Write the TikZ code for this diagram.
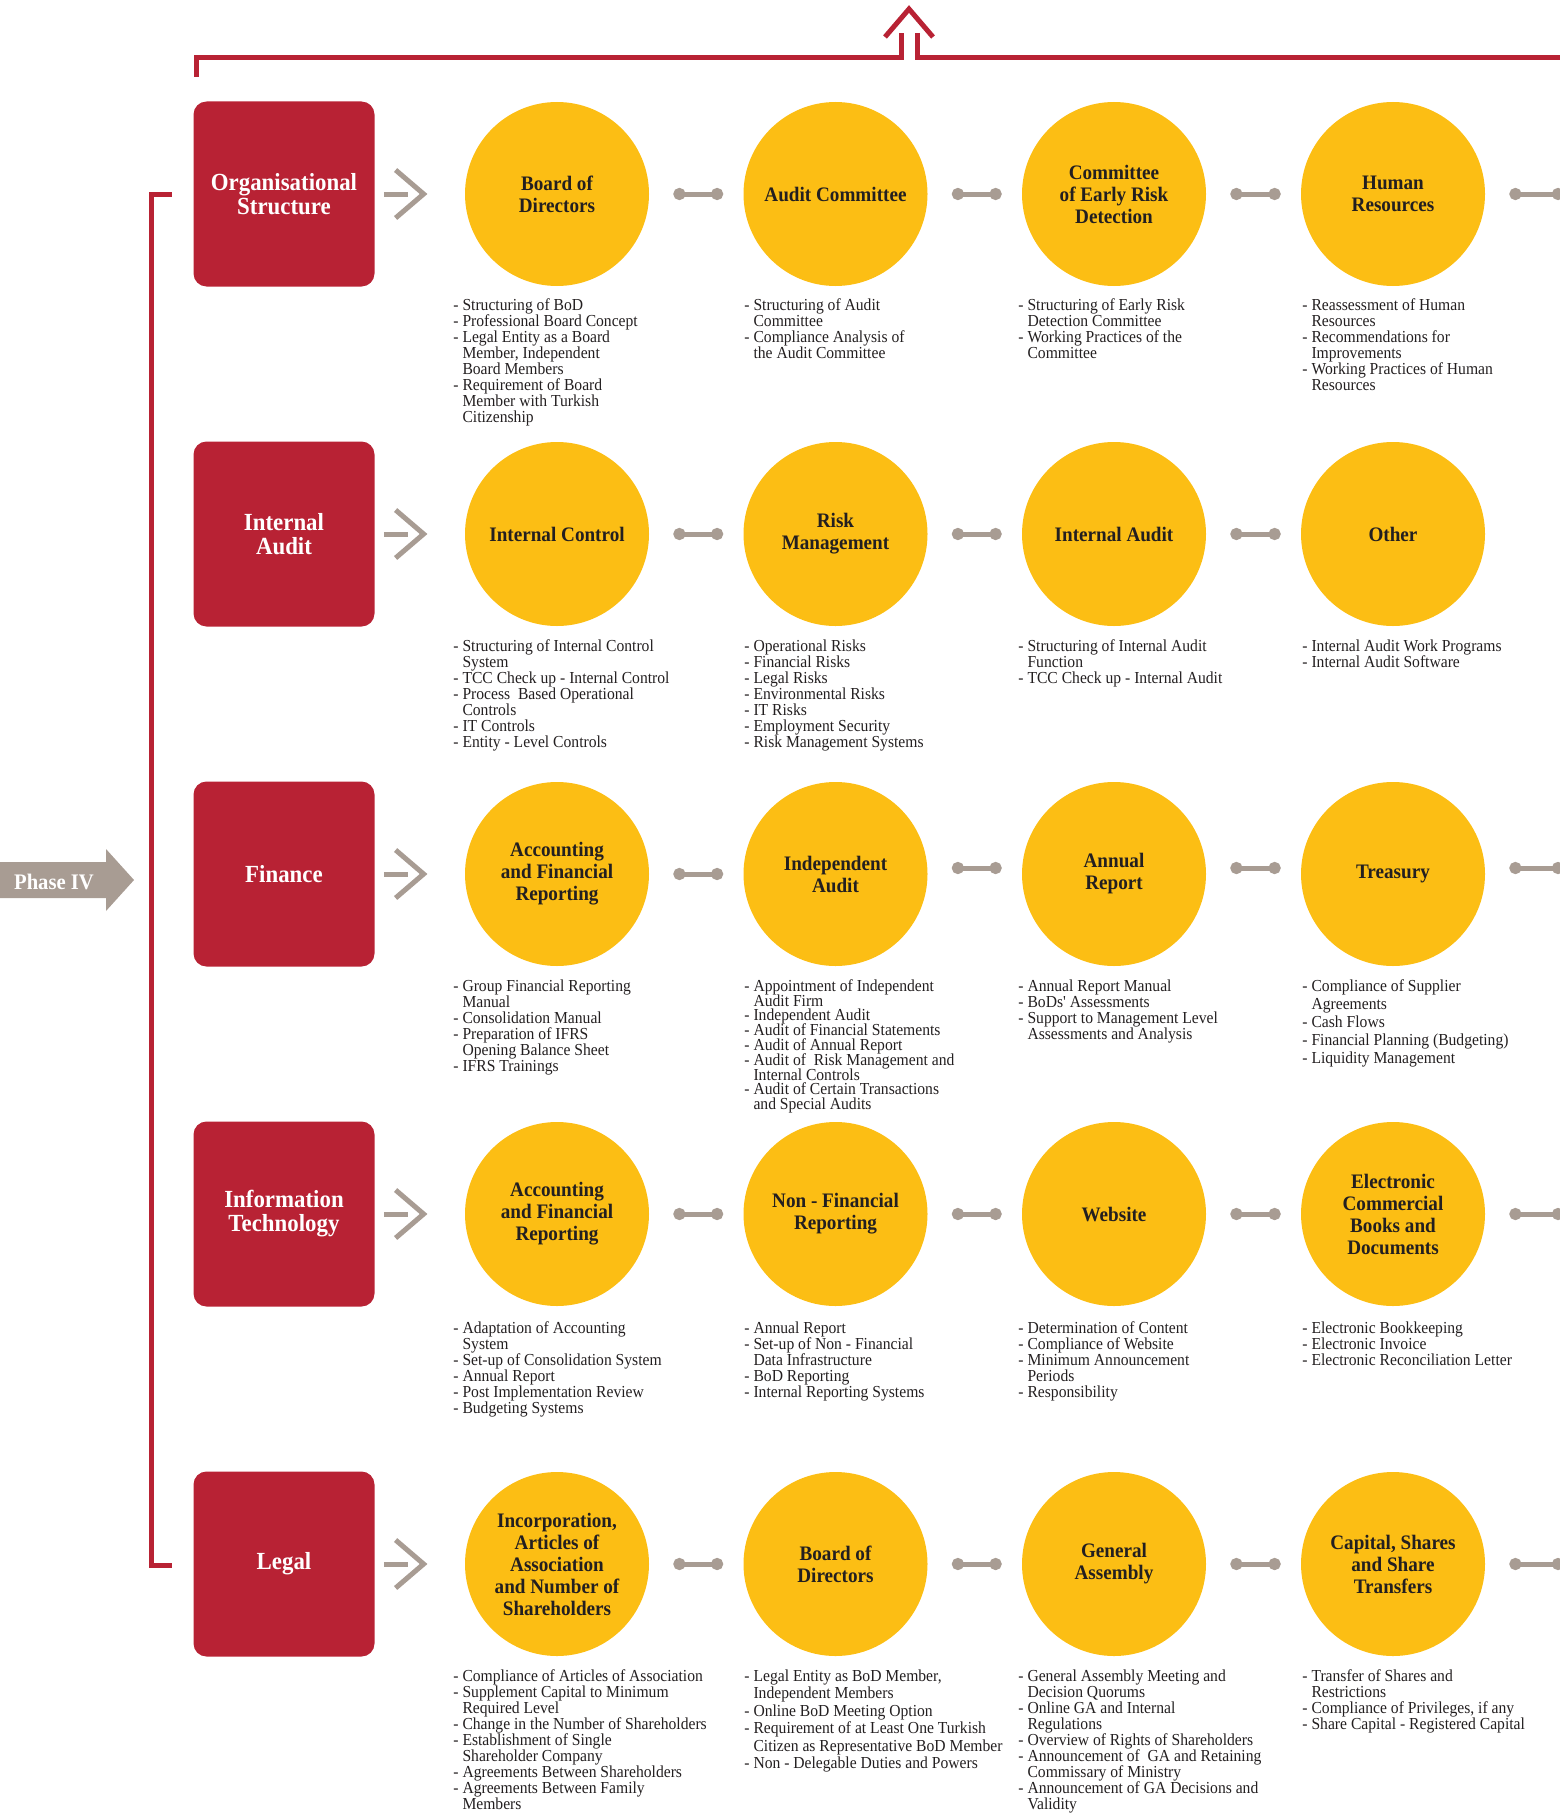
\documentclass[tikz,border=0pt]{standalone}
\usepackage{fontspec}
\setmainfont{Liberation Serif}
\newfontfamily\condfont[FakeStretch=0.93]{Liberation Serif}
\usetikzlibrary{arrows.meta}
\definecolor{pwcred}{HTML}{B82234}
\definecolor{pwcyellow}{HTML}{FCBE14}
\definecolor{pwcgrey}{HTML}{A89C93}
\definecolor{pwctext}{HTML}{231F20}
\newcommand{\hind}{\hphantom{- }}
\newcommand{\tightls}{\lineskiplimit-8pt\relax}

\begin{document}
\begin{tikzpicture}[x=0.5pt,y=-0.5pt,
	box/.style={fill=pwcred,rounded corners=6.5pt,minimum width=90.5pt,minimum height=92.5pt,inner sep=0pt,text=white,align=center,font=\condfont\fontsize{12.3}{12}\selectfont\bfseries},
	topic/.style={circle,fill=pwcyellow,minimum size=92pt,inner sep=0pt,align=center,text=pwctext,font=\condfont\fontsize{10.3}{11}\selectfont\bfseries},
	desc/.style={anchor=north west,inner sep=0pt,align=left,text=pwctext,font=\condfont\fontsize{8.4}{8}\selectfont\tightls},
	link/.style={draw=pwcgrey,line width=2.5pt,{Circle[length=6pt]}-{Circle[length=6pt]},shorten <=12pt,shorten >=10pt},
	shaft/.style={draw=pwcgrey,line width=2.5pt},
	chev/.style={draw=pwcgrey,line width=2.5pt,line join=miter},
	redline/.style={draw=pwcred,line width=2.5pt,line join=miter}]
				%\draw [help lines] (0,0) grid (1559,1814);
				\useasboundingbox (0,0) rectangle (1559,1814);
				% top line with the arrow up
				\draw[redline] (196,77) -- (196,58) -- (901,58) -- (901,33);
				\draw[redline] (917,33) -- (917,58) -- (1600,58);
				\draw[redline] (885,37) -- (909,9) -- (933,37);
				% left bracket
				\draw[redline] (171.5,194) -- (151.5,194) -- (151.5,1565) -- (171.5,1565);
				% phase
				\fill[pwcgrey] (0,862) -- (106,862) -- (106,849) -- (134,880) -- (106,911) -- (106,898) -- (0,898) -- cycle;
				\node[text=white,font=\condfont\fontsize{11.1}{12}\selectfont\bfseries] (ph) at (54,882) {Phase IV};
				% areas
				\node[box] (b1) at (284,194) {Organisational\\Structure};
				\node[box] (b2) at (284,534) {Internal\\Audit};
				\node[box] (b3) at (284,874) {Finance};
				\node[box] (b4) at (284,1214) {Information\\Technology};
				\node[box] (b5) at (284,1564) {Legal};
				% row 1
				\node[topic] (c11) at (557,194) {Board of\\Directors};
				\node[topic] (c12) at (835.5,194) {Audit Committee};
				\node[topic] (c13) at (1114,194) {Committee\\of Early Risk\\Detection};
				\node[topic] (c14) at (1393,194) {Human\\Resources};
				% row 2
				\node[topic] (c21) at (557,534) {Internal Control};
				\node[topic] (c22) at (835.5,534) {Risk\\Management};
				\node[topic] (c23) at (1114,534) {Internal Audit};
				\node[topic] (c24) at (1393,534) {Other};
				% row 3
				\node[topic] (c31) at (557,874) {Accounting\\and Financial\\Reporting};
				\node[topic] (c32) at (835.5,874) {Independent\\Audit};
				\node[topic] (c33) at (1114,874) {Annual\\Report};
				\node[topic] (c34) at (1393,874) {Treasury};
				% row 4
				\node[topic] (c41) at (557,1214) {Accounting\\and Financial\\Reporting};
				\node[topic] (c42) at (835.5,1214) {Non - Financial\\Reporting};
				\node[topic] (c43) at (1114,1214) {Website};
				\node[topic] (c44) at (1393,1214) {Electronic\\Commercial\\Books and\\Documents};
				% row 5
				\node[topic] (c51) at (557,1564) {Incorporation,\\Articles of\\Association\\and Number of\\Shareholders};
				\node[topic] (c52) at (835.5,1564) {Board of\\Directors};
				\node[topic] (c53) at (1114,1564) {General\\Assembly};
				\node[topic] (c54) at (1393,1564) {Capital, Shares\\and Share\\Transfers};
				% loose ends on the right
				\coordinate (r1) at (1584,194);
				\coordinate (r3) at (1584,868);
				\coordinate (r4) at (1584,1214);
				\coordinate (r5) at (1584,1564);
				% grey arrows
				\draw[shaft] ([xshift=4.5pt]b1.east) -- ([xshift=-28.5pt]c11.west);
				\draw[chev] ([xshift=-34.5pt,yshift=12pt]c11.west) -- ([xshift=-20.5pt]c11.west) -- ([xshift=-34.5pt,yshift=-12pt]c11.west);
				\draw[shaft] ([xshift=4.5pt]b2.east) -- ([xshift=-28.5pt]c21.west);
				\draw[chev] ([xshift=-34.5pt,yshift=12pt]c21.west) -- ([xshift=-20.5pt]c21.west) -- ([xshift=-34.5pt,yshift=-12pt]c21.west);
				\draw[shaft] ([xshift=4.5pt]b3.east) -- ([xshift=-28.5pt]c31.west);
				\draw[chev] ([xshift=-34.5pt,yshift=12pt]c31.west) -- ([xshift=-20.5pt]c31.west) -- ([xshift=-34.5pt,yshift=-12pt]c31.west);
				\draw[shaft] ([xshift=4.5pt]b4.east) -- ([xshift=-28.5pt]c41.west);
				\draw[chev] ([xshift=-34.5pt,yshift=12pt]c41.west) -- ([xshift=-20.5pt]c41.west) -- ([xshift=-34.5pt,yshift=-12pt]c41.west);
				\draw[shaft] ([xshift=4.5pt]b5.east) -- ([xshift=-28.5pt]c51.west);
				\draw[chev] ([xshift=-34.5pt,yshift=12pt]c51.west) -- ([xshift=-20.5pt]c51.west) -- ([xshift=-34.5pt,yshift=-12pt]c51.west);
				% links
				\draw[link] (c11) -- (c12);
				\draw[link] (c12) -- (c13);
				\draw[link] (c13) -- (c14);
				\draw[link] (c14) -- (r1);
				\draw[link] (c21) -- (c22);
				\draw[link] (c22) -- (c23);
				\draw[link] (c23) -- (c24);
				\draw[link] (c31) -- (c32);
				\draw[link] ([yshift=3pt]c32.east) -- ([yshift=3pt]c33.west);
				\draw[link] ([yshift=3pt]c33.east) -- ([yshift=3pt]c34.west);
				\draw[link] ([yshift=3pt]c34.east) -- (r3);
				\draw[link] (c41) -- (c42);
				\draw[link] (c42) -- (c43);
				\draw[link] (c43) -- (c44);
				\draw[link] (c44) -- (r4);
				\draw[link] (c51) -- (c52);
				\draw[link] (c52) -- (c53);
				\draw[link] (c53) -- (c54);
				\draw[link] (c54) -- (r5);
				% lists
				\node[desc] (d11) at (453,298) {- Structuring of BoD\\- Professional Board Concept\\- Legal Entity as a Board\\\hind Member, Independent\\\hind Board Members\\- Requirement of Board\\\hind Member with Turkish\\\hind Citizenship};
				\node[desc] (d12) at (744,298) {- Structuring of Audit\\\hind Committee\\- Compliance Analysis of\\\hind the Audit Committee};
				\node[desc] (d13) at (1018,298) {- Structuring of Early Risk\\\hind Detection Committee\\- Working Practices of the\\\hind Committee};
				\node[desc] (d14) at (1302,298) {- Reassessment of Human\\\hind Resources\\- Recommendations for\\\hind Improvements\\- Working Practices of Human\\\hind Resources};
				\node[desc] (d21) at (453,639) {- Structuring of Internal Control\\\hind System\\- TCC Check up - Internal Control\\- Process\ \ Based Operational\\\hind Controls\\- IT Controls\\- Entity - Level Controls};
				\node[desc] (d22) at (744,639) {- Operational Risks\\- Financial Risks\\- Legal Risks\\- Environmental Risks\\- IT Risks\\- Employment Security\\- Risk Management Systems};
				\node[desc] (d23) at (1018,639) {- Structuring of Internal Audit\\\hind Function\\- TCC Check up - Internal Audit};
				\node[desc] (d24) at (1302,639) {- Internal Audit Work Programs\\- Internal Audit Software};
				\node[desc] (d31) at (453,979) {- Group Financial Reporting\\\hind Manual\\- Consolidation Manual\\- Preparation of IFRS\\\hind Opening Balance Sheet\\- IFRS Trainings};
				\node[desc,font=\condfont\fontsize{8.4}{7.4}\selectfont\tightls] (d32) at (744,979) {- Appointment of Independent\\\hind Audit Firm\\- Independent Audit\\- Audit of Financial Statements\\- Audit of Annual Report\\- Audit of\ \ Risk Management and\\\hind Internal Controls\\- Audit of Certain Transactions\\\hind and Special Audits};
				\node[desc] (d33) at (1018,979) {- Annual Report Manual\\- BoDs' Assessments\\- Support to Management Level\\\hind Assessments and Analysis};
				\node[desc,font=\condfont\fontsize{8.4}{9}\selectfont\tightls] (d34) at (1302,979) {- Compliance of Supplier\\\hind Agreements\\- Cash Flows\\- Financial Planning (Budgeting)\\- Liquidity Management};
				\node[desc] (d41) at (453,1321) {- Adaptation of Accounting\\\hind System\\- Set-up of Consolidation System\\- Annual Report\\- Post Implementation Review\\- Budgeting Systems};
				\node[desc] (d42) at (744,1321) {- Annual Report\\- Set-up of Non - Financial\\\hind Data Infrastructure\\- BoD Reporting\\- Internal Reporting Systems};
				\node[desc] (d43) at (1018,1321) {- Determination of Content\\- Compliance of Website\\- Minimum Announcement\\\hind Periods\\- Responsibility};
				\node[desc] (d44) at (1302,1321) {- Electronic Bookkeeping\\- Electronic Invoice\\- Electronic Reconciliation Letter};
				\node[desc] (d51) at (453,1669) {- Compliance of Articles of Association\\- Supplement Capital to Minimum\\\hind Required Level\\- Change in the Number of Shareholders\\- Establishment of Single\\\hind Shareholder Company\\- Agreements Between Shareholders\\- Agreements Between Family\\\hind Members};
				\node[desc,font=\condfont\fontsize{8.4}{8.75}\selectfont\tightls] (d52) at (744,1669) {- Legal Entity as BoD Member,\\\hind Independent Members\\- Online BoD Meeting Option\\- Requirement of at Least One Turkish\\\hind Citizen as Representative BoD Member\\- Non - Delegable Duties and Powers};
				\node[desc] (d53) at (1018,1669) {- General Assembly Meeting and\\\hind Decision Quorums\\- Online GA and Internal\\\hind Regulations\\- Overview of Rights of Shareholders\\- Announcement of\ \ GA and Retaining\\\hind Commissary of Ministry\\- Announcement of GA Decisions and\\\hind Validity};
				\node[desc] (d54) at (1302,1669) {- Transfer of Shares and\\\hind Restrictions\\- Compliance of Privileges, if any\\- Share Capital - Registered Capital};
\end{tikzpicture}
\end{document}
